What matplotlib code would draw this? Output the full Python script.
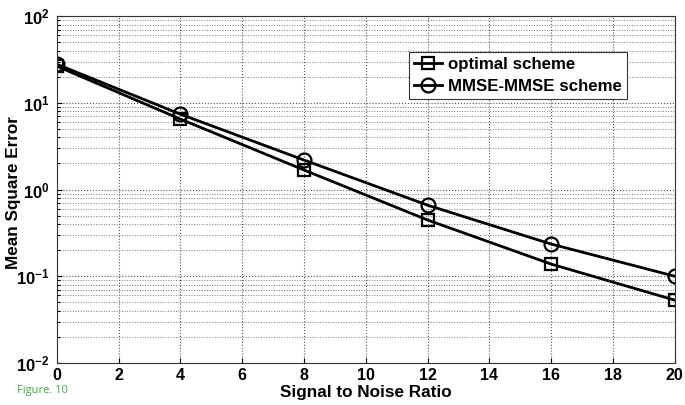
import numpy as np
import matplotlib
matplotlib.use("Agg")
import matplotlib.pyplot as plt
from matplotlib.ticker import LogLocator, NullFormatter, FuncFormatter

plt.rcParams['font.family'] = ['Liberation Sans', 'DejaVu Sans']
plt.rcParams['mathtext.fontset'] = 'custom'
plt.rcParams['mathtext.rm'] = 'Liberation Sans'
plt.rcParams['mathtext.bf'] = 'Liberation Sans:bold'

snr = [0, 4, 8, 12, 16, 20]
mse_optimal = [26.5, 6.5, 1.68, 0.445, 0.138, 0.053]
mse_mmse = [27.9, 7.4, 2.19, 0.66, 0.235, 0.10]

fig = plt.figure(figsize=(6.85, 4.05), dpi=100)
ax = fig.add_axes([0.083, 0.104, 0.902, 0.856])

ax.semilogy(snr, mse_optimal, color='black', lw=2, marker='s', ms=9,
            mfc='none', mew=1.6, label='optimal scheme')
ax.semilogy(snr, mse_mmse, color='black', lw=2, marker='o', ms=10,
            mfc='none', mew=1.6, label='MMSE-MMSE scheme')

ax.set_xlim(0, 20)
ax.set_ylim(1e-2, 1e2)
ax.set_xticks(range(0, 21, 2))
ax.yaxis.set_major_locator(LogLocator(base=10, numticks=10))
ax.yaxis.set_major_formatter(FuncFormatter(
    lambda v, p: r'$\mathbf{10^{%d}}$' % int(round(np.log10(v)))))
ax.yaxis.set_minor_locator(LogLocator(base=10, subs=np.arange(2, 10), numticks=10))
ax.yaxis.set_minor_formatter(NullFormatter())

ax.grid(True, which='major', ls=':', color='#555555', lw=0.8)
ax.grid(True, which='minor', axis='y', ls=':', color='#777777', lw=0.7)
ax.tick_params(which='both', direction='in', width=0.8)
ax.tick_params(axis='x', labelsize=11.5, pad=4)
ax.tick_params(axis='y', labelsize=12, pad=5)
ax.tick_params(which='minor', length=2)
for lab in ax.get_xticklabels():
    lab.set_fontweight('bold')
for s in ax.spines.values():
    s.set_color('#333333')

ax.set_xlabel('Signal to Noise Ratio', fontsize=12.3, fontweight='bold', labelpad=1)
ax.set_ylabel('Mean Square Error', fontsize=12.3, fontweight='bold')
ax.yaxis.set_label_coords(-0.058, 0.49)

leg = ax.legend(loc='upper right', bbox_to_anchor=(0.922, 0.897),
                prop={'weight': 'bold', 'size': 12.2}, fancybox=False,
                edgecolor='#333333', framealpha=1, handlelength=1.7,
                handletextpad=0.3, borderpad=0.3, labelspacing=0.4,
                borderaxespad=0)
leg.get_frame().set_linewidth(0.8)

fig.text(0.025, 0.03, 'Figure. 10', color='#3aaa3a', fontsize=8,
         family=['Open Sans', 'DejaVu Sans'])

fig.savefig('out.png', dpi=100)
